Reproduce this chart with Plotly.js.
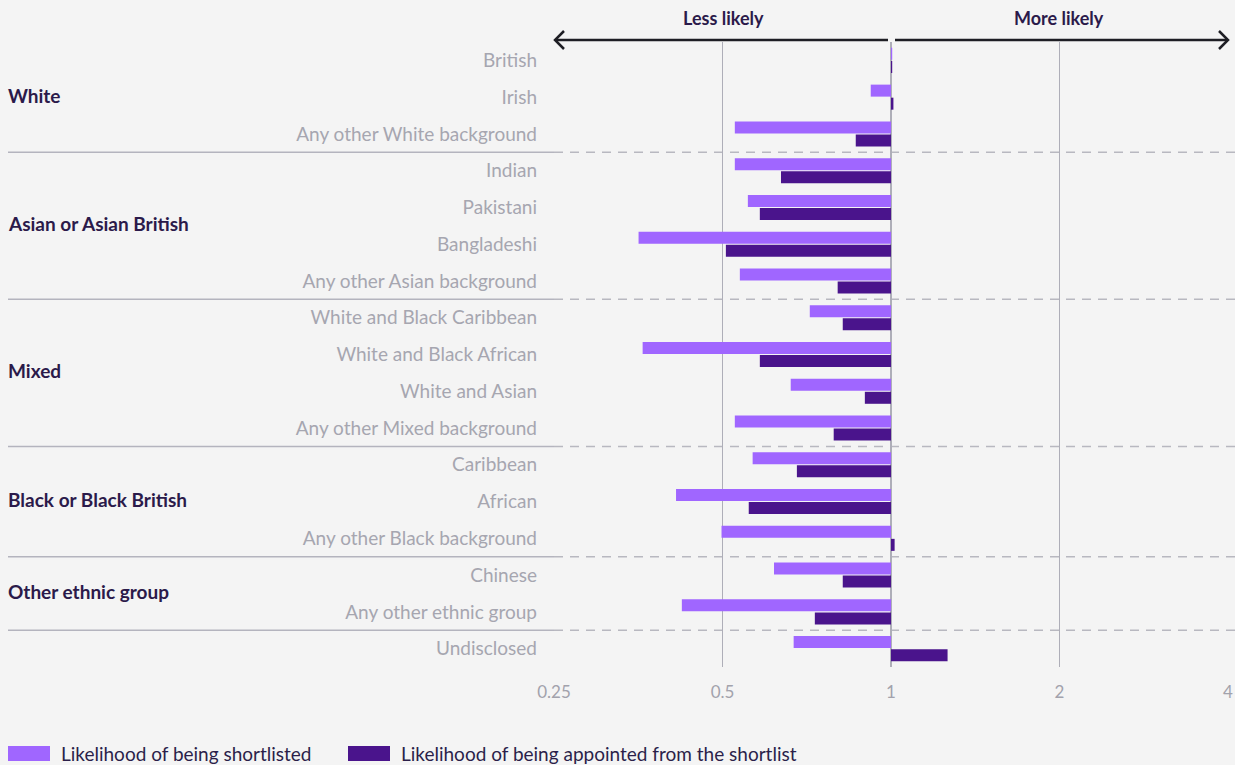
<!DOCTYPE html>
<html>
<head>
<meta charset="utf-8">
<script src="https://cdn.plot.ly/plotly-3.0.1.min.js"></script>
<style>
html,body{margin:0;padding:0;background:#f4f4f4;}
#chart{width:1235px;height:765px;}
</style>
</head>
<body>
<div id="chart"></div>
<script>
const categories = ["British","Irish","Any other White background","Indian","Pakistani","Bangladeshi","Any other Asian background","White and Black Caribbean","White and Black African","White and Asian","Any other Mixed background","Caribbean","African","Any other Black background","Chinese","Any other ethnic group","Undisclosed"];
const groupNames = ["White","Asian or Asian British","Mixed","Black or Black British","Other ethnic group",""];
const groupSizes = [3,4,4,3,2,1];
const shortlisted = [1.005,0.92,0.526,0.526,0.555,0.354,0.537,0.716,0.360,0.662,0.526,0.566,0.413,0.498,0.618,0.423,0.670];
const appointed = [1.005,1.01,0.865,0.636,0.583,0.507,0.803,0.820,0.583,0.898,0.790,0.679,0.557,1.015,0.820,0.731,1.262];
const tickVals = [0.25,0.5,1,2,4];
const tickText = ["0.25","0.5","1","2","4"];
const seriesNames = ["Likelihood of being shortlisted","Likelihood of being appointed from the shortlist"];
const colors = ["#a066ff","#4a148c"];
const directionLabels = ["Less likely","More likely"];

const W = 1235, H = 765;
const mL = 554, mR = 7, mT = 42, mB = 98;
const pw = W - mL - mR, ph = H - mT - mB;
const px = x => (x - mL) / pw;
const py = y => (H - mB - y) / ph;
const FONT = "Lato, 'Open Sans', sans-serif";
const n = categories.length;

const traces = [shortlisted, appointed].map((vals, i) => ({
  type: 'bar', orientation: 'h',
  y: categories,
  x: vals.map(v => v - 1),
  base: vals.map(() => 1),
  name: seriesNames[i],
  marker: {color: colors[i]},
  hoverinfo: 'skip'
}));

const shapes = [];
const annotations = [];
let cum = 0;
groupSizes.forEach((s, gi) => {
  const center = cum + s / 2;
  if (groupNames[gi]) {
    annotations.push({
      xref: 'paper', yref: 'paper', x: px(6), y: 1 - center / n, yshift: 2,
      xanchor: 'left', yanchor: 'middle', showarrow: false,
      text: '<b>' + groupNames[gi] + '</b>',
      font: {family: FONT, size: 19, color: '#2b1a4a'}
    });
  }
  cum += s;
  if (cum < n) {
    const yy = 1 - cum / n;
    shapes.push({type: 'line', xref: 'paper', yref: 'paper', x0: px(8), x1: 0, y0: yy, y1: yy,
      line: {color: '#b4b4be', width: 1.5}, layer: 'above'});
    shapes.push({type: 'line', xref: 'paper', yref: 'paper', x0: 0, x1: px(1235), y0: yy, y1: yy,
      line: {color: '#b8b8c0', width: 1.5, dash: '9px,7px'}, layer: 'below'});
  }
});

// direction arrows
const ay = py(40);
const arrowStyle = {color: '#1e1e24', width: 2.5};
shapes.push({type: 'line', xref: 'paper', yref: 'paper', x0: px(555), x1: px(888), y0: ay, y1: ay, line: arrowStyle});
shapes.push({type: 'line', xref: 'paper', yref: 'paper', x0: px(895), x1: px(1228), y0: ay, y1: ay, line: arrowStyle});
shapes.push({type: 'path', xref: 'paper', yref: 'paper',
  path: `M ${px(564)} ${py(31)} L ${px(555)} ${py(40)} L ${px(564)} ${py(49)}`, line: arrowStyle});
shapes.push({type: 'path', xref: 'paper', yref: 'paper',
  path: `M ${px(1219)} ${py(31)} L ${px(1228)} ${py(40)} L ${px(1219)} ${py(49)}`, line: arrowStyle});
annotations.push({xref: 'paper', yref: 'paper', x: px(723), y: py(18), showarrow: false,
  xanchor: 'center', yanchor: 'middle',
  text: '<b>' + directionLabels[0] + '</b>', font: {family: FONT, size: 18, color: '#2b1a4a'}});
annotations.push({xref: 'paper', yref: 'paper', x: px(1059), y: py(18), showarrow: false,
  xanchor: 'center', yanchor: 'middle',
  text: '<b>' + directionLabels[1] + '</b>', font: {family: FONT, size: 18, color: '#2b1a4a'}});

// custom legend
const legX = [8, 348];
seriesNames.forEach((nm, i) => {
  shapes.push({type: 'rect', xref: 'paper', yref: 'paper',
    x0: px(legX[i]), x1: px(legX[i] + 42), y0: py(746), y1: py(761),
    fillcolor: colors[i], line: {width: 0}});
  annotations.push({xref: 'paper', yref: 'paper', x: px(legX[i] + 51), y: py(753),
    xanchor: 'left', yanchor: 'middle', showarrow: false, text: nm,
    font: {family: FONT, size: 19, color: '#2b1f4a'}});
});

const layout = {
  width: W, height: H,
  margin: {l: mL, r: mR, t: mT, b: mB},
  paper_bgcolor: '#f4f4f4', plot_bgcolor: '#f4f4f4',
  barmode: 'group', bargap: 0.29, bargroupgap: 0.08,
  showlegend: false,
  xaxis: {
    type: 'log', range: [Math.log10(0.25), Math.log10(4)],
    tickvals: tickVals, ticktext: tickText,
    showgrid: true, gridcolor: '#aeaeb8', gridwidth: 1.5,
    zeroline: false, showline: false, ticks: '',
    ticklabelstandoff: 13,
    tickfont: {family: FONT, size: 17, color: '#a2a2ac'}
  },
  yaxis: {
    type: 'category', autorange: 'reversed',
    showgrid: false, zeroline: false, showline: false, ticks: '',
    ticklabelstandoff: 16,
    tickfont: {family: FONT, size: 19, color: '#a6a6b0'}
  },
  shapes: shapes,
  annotations: annotations,
  font: {family: FONT}
};

Plotly.newPlot('chart', traces, layout, {staticPlot: true, displayModeBar: false});
</script>
</body>
</html>
